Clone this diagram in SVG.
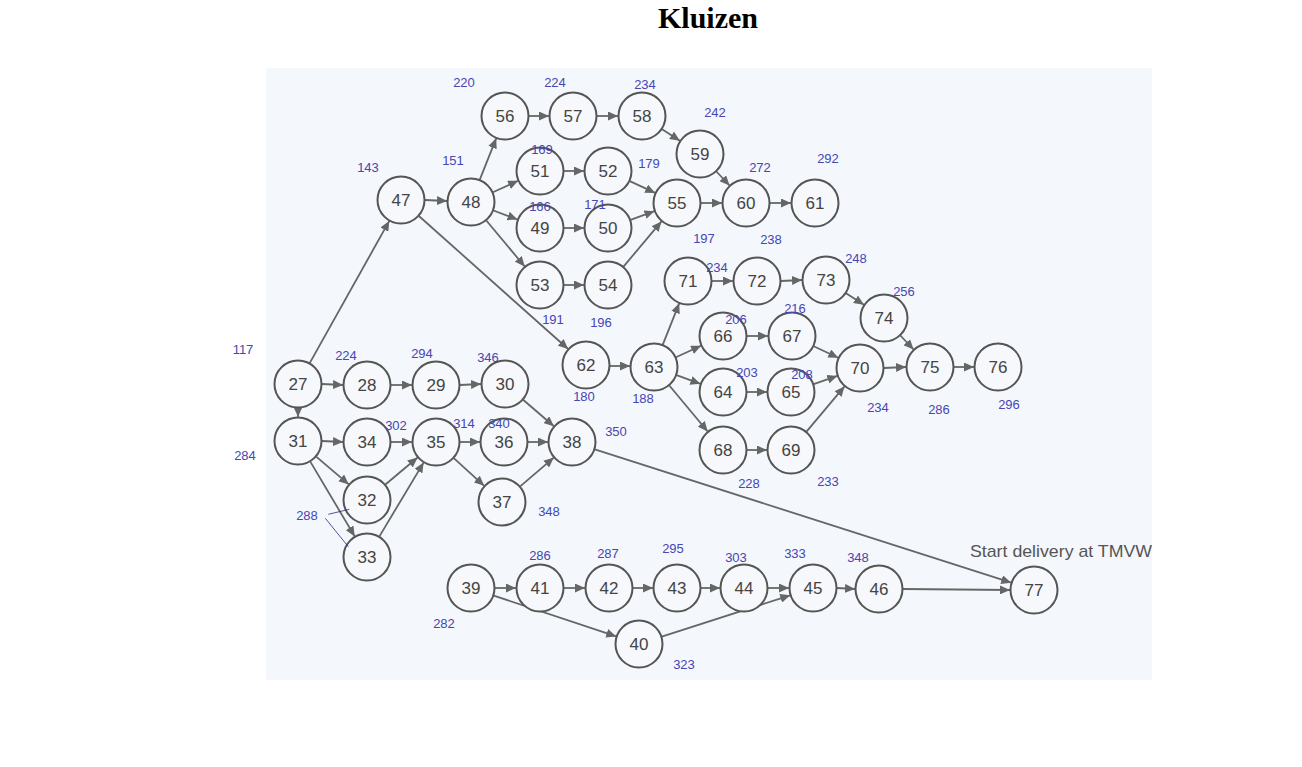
<svg xmlns="http://www.w3.org/2000/svg" width="1302" height="767" viewBox="0 0 1302 767">
  <style>
    .node circle { fill: #f6f8fb; stroke: #555; stroke-width: 2; }
    .node text { font-family: "Liberation Sans", Arial, sans-serif; font-size: 17px; fill: #444; text-anchor: middle; }
    .edges line { stroke: #666; stroke-width: 1.8; marker-end: url(#arrow); }
    .lbl { font-family: "Liberation Sans", Arial, sans-serif; font-size: 13px; fill: #4646b4; text-anchor: middle; }
    .title { font-family: "Liberation Serif", "Times New Roman", serif; font-size: 30px; font-weight: bold; fill: #000; text-anchor: middle; }
    .note { font-family: "Liberation Sans", Arial, sans-serif; font-size: 17px; fill: #555; }
  </style>
  <defs>
    <marker id="arrow" markerUnits="userSpaceOnUse" markerWidth="11" markerHeight="9" refX="10" refY="4.5" orient="auto" viewBox="0 0 11 9">
      <path d="M0,0 L10,4.5 L0,9 z" fill="#666"/>
    </marker>
  </defs>

  <rect width="1302" height="767" fill="#ffffff"/>
  <text class="title" x="708" y="28">Kluizen</text>

  <!-- scanned sheet -->
  <rect x="266" y="68" width="886" height="612" fill="#f4f7fb"/>

  <g class="edges">
    <line x1="322" y1="384" x2="343" y2="385"/>
    <line x1="391" y1="385" x2="412" y2="385"/>
    <line x1="460" y1="385" x2="481" y2="384"/>
    <line x1="523.1" y1="399.7" x2="553.9" y2="426.3"/>
    <line x1="298" y1="408" x2="298" y2="417"/>
    <line x1="309.7" y1="363.1" x2="389.3" y2="220.9"/>
    <line x1="322" y1="441" x2="343" y2="442"/>
    <line x1="391" y1="442" x2="412" y2="442"/>
    <line x1="460" y1="442" x2="480" y2="442"/>
    <line x1="528" y1="442" x2="548" y2="442"/>
    <line x1="316.2" y1="456.6" x2="348.8" y2="484.4"/>
    <line x1="310.3" y1="461.6" x2="354.7" y2="536.4"/>
    <line x1="385.4" y1="484.5" x2="417.6" y2="457.5"/>
    <line x1="379.4" y1="536.4" x2="423.6" y2="462.6"/>
    <line x1="453.8" y1="458.2" x2="484.2" y2="485.8"/>
    <line x1="520.2" y1="486.4" x2="553.8" y2="457.6"/>
    <line x1="594.8" y1="449.3" x2="1011.2" y2="582.7"/>
    <line x1="425" y1="200" x2="447" y2="201"/>
    <line x1="418.9" y1="216" x2="568.1" y2="349"/>
    <line x1="479.8" y1="179.7" x2="496.2" y2="138.3"/>
    <line x1="492.9" y1="192.2" x2="518.1" y2="180.8"/>
    <line x1="493.5" y1="210.5" x2="517.5" y2="219.5"/>
    <line x1="486.3" y1="220.5" x2="524.7" y2="266.5"/>
    <line x1="529" y1="116" x2="549" y2="116"/>
    <line x1="597" y1="116" x2="618" y2="116"/>
    <line x1="662.1" y1="129.2" x2="679.9" y2="140.8"/>
    <line x1="716.4" y1="171.5" x2="729.6" y2="185.5"/>
    <line x1="564" y1="171" x2="584" y2="171"/>
    <line x1="629.8" y1="181.1" x2="655.2" y2="192.9"/>
    <line x1="564" y1="228" x2="584" y2="228"/>
    <line x1="630.6" y1="219.8" x2="654.4" y2="211.2"/>
    <line x1="564" y1="285" x2="584" y2="285"/>
    <line x1="623.5" y1="266.6" x2="661.5" y2="221.4"/>
    <line x1="701" y1="203" x2="722" y2="203"/>
    <line x1="770" y1="203" x2="791" y2="203"/>
    <line x1="610" y1="366" x2="630" y2="366"/>
    <line x1="662.8" y1="344.7" x2="679.2" y2="303.3"/>
    <line x1="675.9" y1="357.2" x2="701.1" y2="345.8"/>
    <line x1="676.6" y1="375.2" x2="700.4" y2="383.8"/>
    <line x1="669.3" y1="385.5" x2="707.7" y2="431.5"/>
    <line x1="712" y1="281" x2="733" y2="281"/>
    <line x1="781" y1="281" x2="802" y2="280"/>
    <line x1="846.1" y1="293.2" x2="863.9" y2="304.8"/>
    <line x1="900.4" y1="335.5" x2="913.6" y2="349.5"/>
    <line x1="747" y1="336" x2="768" y2="336"/>
    <line x1="813.7" y1="346.2" x2="838.3" y2="357.8"/>
    <line x1="747" y1="392" x2="767" y2="392"/>
    <line x1="813.7" y1="384.1" x2="837.3" y2="375.9"/>
    <line x1="747" y1="450" x2="767" y2="450"/>
    <line x1="806.5" y1="431.6" x2="844.5" y2="386.4"/>
    <line x1="884" y1="368" x2="906" y2="367"/>
    <line x1="954" y1="367" x2="974" y2="367"/>
    <line x1="495" y1="588" x2="516" y2="588"/>
    <line x1="564" y1="588" x2="585" y2="588"/>
    <line x1="633" y1="588" x2="653" y2="588"/>
    <line x1="701" y1="588" x2="720" y2="588"/>
    <line x1="768" y1="588" x2="789" y2="588"/>
    <line x1="837" y1="588" x2="855" y2="589"/>
    <line x1="903" y1="589" x2="1010" y2="590"/>
    <line x1="493.8" y1="595.6" x2="616.2" y2="636.4"/>
    <line x1="661.8" y1="636.7" x2="790.2" y2="595.3"/>
  </g>

  <g id="n27" class="node"><circle cx="298" cy="384" r="23.5"/><text x="298" y="390">27</text></g>
  <g id="n28" class="node"><circle cx="367" cy="385" r="23.5"/><text x="367" y="391">28</text></g>
  <g id="n29" class="node"><circle cx="436" cy="385" r="23.5"/><text x="436" y="391">29</text></g>
  <g id="n30" class="node"><circle cx="505" cy="384" r="23.5"/><text x="505" y="390">30</text></g>
  <g id="n31" class="node"><circle cx="298" cy="441" r="23.5"/><text x="298" y="447">31</text></g>
  <g id="n34" class="node"><circle cx="367" cy="442" r="23.5"/><text x="367" y="448">34</text></g>
  <g id="n35" class="node"><circle cx="436" cy="442" r="23.5"/><text x="436" y="448">35</text></g>
  <g id="n36" class="node"><circle cx="504" cy="442" r="23.5"/><text x="504" y="448">36</text></g>
  <g id="n38" class="node"><circle cx="572" cy="442" r="23.5"/><text x="572" y="448">38</text></g>
  <g id="n32" class="node"><circle cx="367" cy="500" r="23.5"/><text x="367" y="506">32</text></g>
  <g id="n33" class="node"><circle cx="367" cy="557" r="23.5"/><text x="367" y="563">33</text></g>
  <g id="n37" class="node"><circle cx="502" cy="502" r="23.5"/><text x="502" y="508">37</text></g>
  <g id="n47" class="node"><circle cx="401" cy="200" r="23.5"/><text x="401" y="206">47</text></g>
  <g id="n48" class="node"><circle cx="471" cy="202" r="23.5"/><text x="471" y="208">48</text></g>
  <g id="n56" class="node"><circle cx="505" cy="116" r="23.5"/><text x="505" y="122">56</text></g>
  <g id="n57" class="node"><circle cx="573" cy="116" r="23.5"/><text x="573" y="122">57</text></g>
  <g id="n58" class="node"><circle cx="642" cy="116" r="23.5"/><text x="642" y="122">58</text></g>
  <g id="n59" class="node"><circle cx="700" cy="154" r="23.5"/><text x="700" y="160">59</text></g>
  <g id="n51" class="node"><circle cx="540" cy="171" r="23.5"/><text x="540" y="177">51</text></g>
  <g id="n52" class="node"><circle cx="608" cy="171" r="23.5"/><text x="608" y="177">52</text></g>
  <g id="n49" class="node"><circle cx="540" cy="228" r="23.5"/><text x="540" y="234">49</text></g>
  <g id="n50" class="node"><circle cx="608" cy="228" r="23.5"/><text x="608" y="234">50</text></g>
  <g id="n53" class="node"><circle cx="540" cy="285" r="23.5"/><text x="540" y="291">53</text></g>
  <g id="n54" class="node"><circle cx="608" cy="285" r="23.5"/><text x="608" y="291">54</text></g>
  <g id="n55" class="node"><circle cx="677" cy="203" r="23.5"/><text x="677" y="209">55</text></g>
  <g id="n60" class="node"><circle cx="746" cy="203" r="23.5"/><text x="746" y="209">60</text></g>
  <g id="n61" class="node"><circle cx="815" cy="203" r="23.5"/><text x="815" y="209">61</text></g>
  <g id="n71" class="node"><circle cx="688" cy="281" r="23.5"/><text x="688" y="287">71</text></g>
  <g id="n72" class="node"><circle cx="757" cy="281" r="23.5"/><text x="757" y="287">72</text></g>
  <g id="n73" class="node"><circle cx="826" cy="280" r="23.5"/><text x="826" y="286">73</text></g>
  <g id="n74" class="node"><circle cx="884" cy="318" r="23.5"/><text x="884" y="324">74</text></g>
  <g id="n62" class="node"><circle cx="586" cy="365" r="23.5"/><text x="586" y="371">62</text></g>
  <g id="n63" class="node"><circle cx="654" cy="367" r="23.5"/><text x="654" y="373">63</text></g>
  <g id="n66" class="node"><circle cx="723" cy="336" r="23.5"/><text x="723" y="342">66</text></g>
  <g id="n67" class="node"><circle cx="792" cy="336" r="23.5"/><text x="792" y="342">67</text></g>
  <g id="n64" class="node"><circle cx="723" cy="392" r="23.5"/><text x="723" y="398">64</text></g>
  <g id="n65" class="node"><circle cx="791" cy="392" r="23.5"/><text x="791" y="398">65</text></g>
  <g id="n68" class="node"><circle cx="723" cy="450" r="23.5"/><text x="723" y="456">68</text></g>
  <g id="n69" class="node"><circle cx="791" cy="450" r="23.5"/><text x="791" y="456">69</text></g>
  <g id="n70" class="node"><circle cx="860" cy="368" r="23.5"/><text x="860" y="374">70</text></g>
  <g id="n75" class="node"><circle cx="930" cy="367" r="23.5"/><text x="930" y="373">75</text></g>
  <g id="n76" class="node"><circle cx="998" cy="367" r="23.5"/><text x="998" y="373">76</text></g>
  <g id="n39" class="node"><circle cx="471" cy="588" r="23.5"/><text x="471" y="594">39</text></g>
  <g id="n41" class="node"><circle cx="540" cy="588" r="23.5"/><text x="540" y="594">41</text></g>
  <g id="n42" class="node"><circle cx="609" cy="588" r="23.5"/><text x="609" y="594">42</text></g>
  <g id="n43" class="node"><circle cx="677" cy="588" r="23.5"/><text x="677" y="594">43</text></g>
  <g id="n44" class="node"><circle cx="744" cy="588" r="23.5"/><text x="744" y="594">44</text></g>
  <g id="n45" class="node"><circle cx="813" cy="588" r="23.5"/><text x="813" y="594">45</text></g>
  <g id="n46" class="node"><circle cx="879" cy="589" r="23.5"/><text x="879" y="595">46</text></g>
  <g id="n40" class="node"><circle cx="639" cy="644" r="23.5"/><text x="639" y="650">40</text></g>
  <g id="n77" class="node"><circle cx="1034" cy="590" r="23.5"/><text x="1034" y="596">77</text></g>

  <text class="note" x="970" y="557" textLength="182" lengthAdjust="spacingAndGlyphs">Start delivery at TMVW</text>

  <!-- time annotations -->
  <g id="times">
    <text class="lbl" x="243" y="354">117</text>
    <text class="lbl" x="346" y="360">224</text>
    <text class="lbl" x="422" y="358">294</text>
    <text class="lbl" x="488" y="362">346</text>
    <text class="lbl" x="396" y="430">302</text>
    <text class="lbl" x="464" y="428">314</text>
    <text class="lbl" x="499" y="428">340</text>
    <text class="lbl" x="245" y="460">284</text>
    <text class="lbl" x="307" y="520">288</text>
    <text class="lbl" x="549" y="516">348</text>
    <text class="lbl" x="616" y="436">350</text>
    <text class="lbl" x="368" y="172">143</text>
    <text class="lbl" x="453" y="165">151</text>
    <text class="lbl" x="464" y="87">220</text>
    <text class="lbl" x="555" y="87">224</text>
    <text class="lbl" x="645" y="89">234</text>
    <text class="lbl" x="715" y="117">242</text>
    <text class="lbl" x="542" y="154">169</text>
    <text class="lbl" x="649" y="168">179</text>
    <text class="lbl" x="540" y="211">166</text>
    <text class="lbl" x="595" y="209">171</text>
    <text class="lbl" x="760" y="172">272</text>
    <text class="lbl" x="828" y="163">292</text>
    <text class="lbl" x="704" y="243">197</text>
    <text class="lbl" x="771" y="244">238</text>
    <text class="lbl" x="553" y="324">191</text>
    <text class="lbl" x="601" y="327">196</text>
    <text class="lbl" x="584" y="401">180</text>
    <text class="lbl" x="643" y="403">188</text>
    <text class="lbl" x="717" y="272">234</text>
    <text class="lbl" x="856" y="263">248</text>
    <text class="lbl" x="904" y="296">256</text>
    <text class="lbl" x="736" y="324">206</text>
    <text class="lbl" x="795" y="313">216</text>
    <text class="lbl" x="747" y="377">203</text>
    <text class="lbl" x="802" y="379">208</text>
    <text class="lbl" x="878" y="412">234</text>
    <text class="lbl" x="939" y="414">286</text>
    <text class="lbl" x="1009" y="409">296</text>
    <text class="lbl" x="749" y="488">228</text>
    <text class="lbl" x="828" y="486">233</text>
    <text class="lbl" x="540" y="560">286</text>
    <text class="lbl" x="608" y="558">287</text>
    <text class="lbl" x="673" y="553">295</text>
    <text class="lbl" x="736" y="562">303</text>
    <text class="lbl" x="795" y="558">333</text>
    <text class="lbl" x="858" y="562">348</text>
    <text class="lbl" x="444" y="628">282</text>
    <text class="lbl" x="684" y="669">323</text>
    <path d="M328.3,514.3 L349.3,509.3 M325.3,518.3 L348.3,546.7" fill="none" stroke="#2a2a80" stroke-width="0.8"/>
  </g>
</svg>
